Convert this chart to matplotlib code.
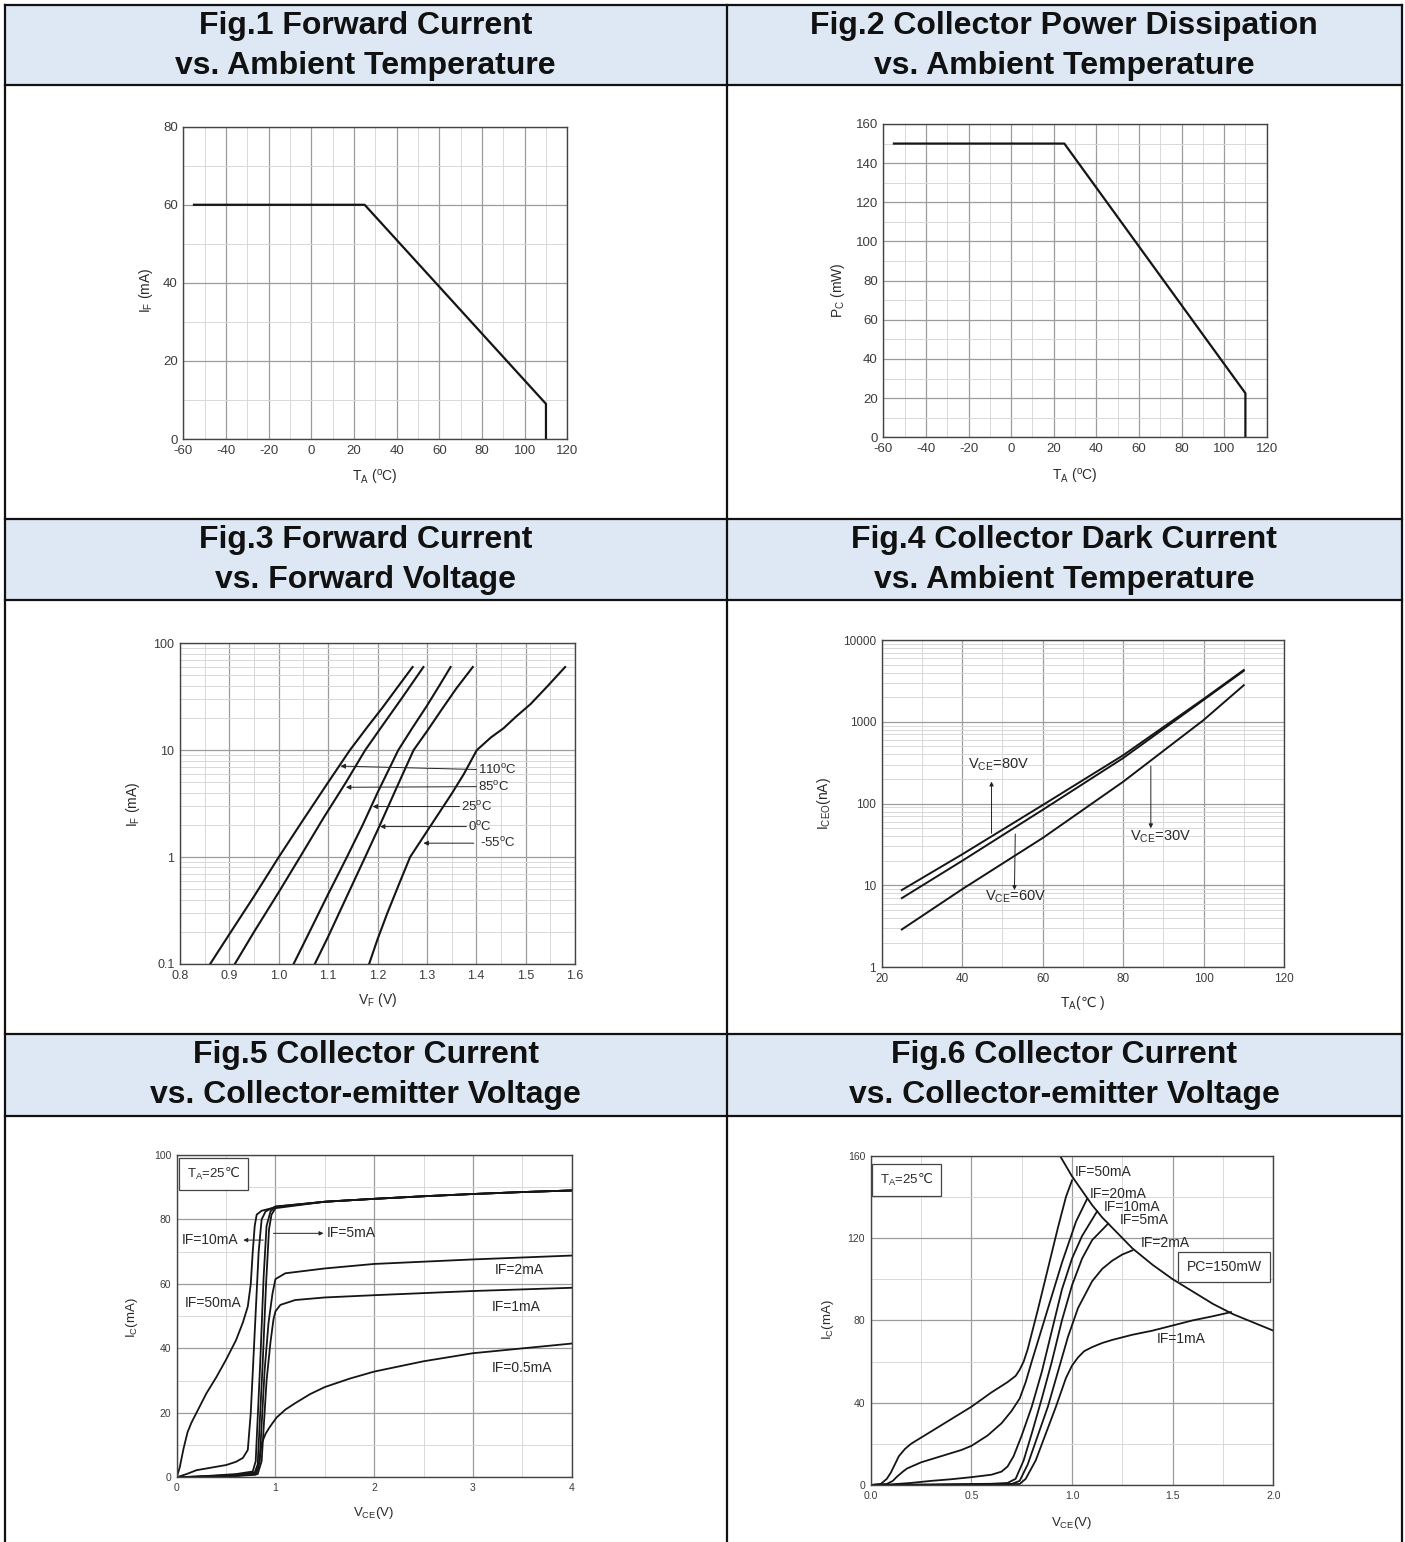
import matplotlib
matplotlib.use('Agg')
import matplotlib.pyplot as plt
from matplotlib.lines import Line2D
from matplotlib.patches import Rectangle
from matplotlib.ticker import NullFormatter

plt.rcParams['font.family'] = ['Liberation Sans', 'DejaVu Sans']
plt.rcParams['mathtext.fontset'] = 'custom'
plt.rcParams['mathtext.rm'] = 'Liberation Sans'
plt.rcParams['mathtext.it'] = 'Liberation Sans:italic'
plt.rcParams['mathtext.bf'] = 'Liberation Sans:bold'
plt.rcParams['mathtext.sf'] = 'DejaVu Sans'   # used only for the ℃ sign
plt.rcParams['mathtext.default'] = 'regular'

# ---- header titles
titles = [
    ("Fig.1 Forward Current", "vs. Ambient Temperature"),
    ("Fig.2 Collector Power Dissipation", "vs. Ambient Temperature"),
    ("Fig.3 Forward Current", "vs. Forward Voltage"),
    ("Fig.4 Collector Dark Current", "vs. Ambient Temperature"),
    ("Fig.5 Collector Current", "vs. Collector-emitter Voltage"),
    ("Fig.6 Collector Current", "vs. Collector-emitter Voltage"),
]

# ---- Fig.1 derating of forward current
fig1_t = [-55, 25, 110, 110]
fig1_if = [60, 60, 9, 0]

# ---- Fig.2 derating of collector power
fig2_t = [-55, 25, 110, 110]
fig2_pc = [150, 150, 22.5, 0]

# ---- Fig.3 IF vs VF (V, mA)
fig3_110_v = [0.861, 0.90, 0.95, 1.00, 1.05, 1.10, 1.144, 1.18, 1.21, 1.24, 1.271]
fig3_110_i = [0.1, 0.19, 0.43, 1.0, 2.25, 5.0, 10, 16.6, 25, 38.5, 60]
fig3_85_v = [0.911, 0.95, 1.00, 1.043, 1.09, 1.136, 1.175, 1.21, 1.25, 1.293]
fig3_85_i = [0.1, 0.2, 0.47, 1.0, 2.3, 5.0, 10, 17, 31, 60]
fig3_25_v = [1.030, 1.06, 1.10, 1.138, 1.17, 1.20, 1.242, 1.27, 1.30, 1.325, 1.348]
fig3_25_i = [0.1, 0.19, 0.45, 1.0, 2.0, 4.0, 10, 16, 26, 40, 60]
fig3_0_v = [1.073, 1.10, 1.14, 1.175, 1.205, 1.24, 1.273, 1.30, 1.33, 1.36, 1.393]
fig3_0_i = [0.1, 0.18, 0.45, 1.0, 2.0, 4.6, 10, 15, 24, 38, 60]
fig3_m55_v = [1.183, 1.20, 1.22, 1.245, 1.266, 1.293, 1.32, 1.35, 1.375, 1.401, 1.43, 1.455, 1.48, 1.51, 1.545, 1.58]
fig3_m55_i = [0.1, 0.17, 0.3, 0.58, 1.0, 1.55, 2.4, 3.9, 6.0, 10, 13.2, 16, 20.5, 27, 40, 60]
fig3_labels = ["110$^{o}$C", "85$^{o}$C", "25$^{o}$C", "0$^{o}$C", "-55$^{o}$C"]
fig3_label_v = [1.404, 1.404, 1.370, 1.384, 1.408]
fig3_label_i = [6.6, 4.56, 2.97, 1.93, 1.35]
fig3_head_v = [1.125, 1.136, 1.190, 1.205, 1.293]
fig3_head_i = [7.1, 4.5, 2.97, 1.93, 1.35]
fig3_tail_v = [1.400, 1.400, 1.366, 1.380, 1.395]

# ---- Fig.4 ICEO vs TA (degC, nA)
fig4_t = [25, 40, 60, 80, 100, 110]
fig4_80v = [8.8, 24, 96, 390, 1900, 4300]
fig4_60v = [7.0, 20, 84, 360, 1850, 4200]
fig4_30v = [2.9, 9, 38, 185, 1050, 2800]

# ---- Fig.5 IC vs VCE (V, mA)
fig5_top_v = [1.5, 2.0, 2.5, 3.0, 3.5, 4.0]
fig5_top_i = [85.5, 86.4, 87.2, 87.9, 88.5, 89.0]
fig5_50_v = [0, 0.03, 0.07, 0.11, 0.15, 0.2, 0.3, 0.4, 0.5, 0.6, 0.67, 0.72, 0.75, 0.77, 0.79, 0.81, 0.86, 0.95, 1.0]
fig5_50_i = [0, 3, 9, 14, 17, 20, 26, 31, 36.5, 42.5, 48, 53, 60, 70, 78, 81.5, 82.7, 83.4, 83.8]
fig5_20_v = [0, 0.1, 0.2, 0.35, 0.5, 0.6, 0.67, 0.72, 0.75, 0.79, 0.83, 0.86, 0.9, 1.0]
fig5_20_i = [0, 1, 2.2, 3, 3.8, 4.8, 6, 8.5, 20, 45, 70, 80, 82.5, 84]
fig5_10_v = [0, 0.3, 0.6, 0.77, 0.80, 0.845, 0.88, 0.91, 0.95, 1.0]
fig5_10_i = [0, 0.4, 1.0, 1.8, 5, 35, 62, 78, 82.5, 84]
fig5_5_v = [0, 0.3, 0.6, 0.79, 0.82, 0.87, 0.905, 0.935, 0.96, 1.0]
fig5_5_i = [0, 0.3, 0.8, 1.5, 4, 35, 60, 77, 81.5, 83.5]
fig5_2_v = [0, 0.3, 0.6, 0.80, 0.84, 0.89, 0.93, 0.97, 1.0, 1.1, 1.5, 2.0, 3.0, 4.0]
fig5_2_i = [0, 0.2, 0.5, 1.2, 5, 33, 48, 57, 61.5, 63.3, 64.8, 66.2, 67.6, 68.8]
fig5_1_v = [0, 0.3, 0.6, 0.82, 0.86, 0.91, 0.95, 0.98, 1.0, 1.05, 1.2, 1.5, 2.0, 3.0, 4.0]
fig5_1_i = [0, 0.2, 0.5, 1.0, 5, 30, 42, 49, 51.5, 53.5, 55, 55.8, 56.5, 57.8, 58.8]
fig5_05_v = [0, 0.3, 0.6, 0.8, 0.83, 0.86, 0.9, 0.94, 1.01, 1.1, 1.2, 1.35, 1.5, 1.75, 2.0, 2.5, 3.0, 3.5, 4.0]
fig5_05_i = [0, 0.2, 0.4, 0.8, 3.3, 10.5, 13.5, 15.5, 18.5, 21, 23, 25.8, 28, 30.6, 32.8, 36, 38.5, 40, 41.5]

# ---- Fig.6 IC vs VCE (V, mA)
fig6_pc_v = [0.94, 0.97, 1.0, 1.05, 1.1, 1.15, 1.2, 1.25, 1.3, 1.35, 1.4, 1.45, 1.5, 1.6, 1.7, 1.8, 1.9, 2.0]
fig6_pc_i = [160, 155, 150, 143, 136, 130, 125, 120, 115, 111, 107, 103.5, 100, 94, 88, 83, 79, 75]
fig6_50_v = [0, 0.05, 0.08, 0.10, 0.12, 0.14, 0.17, 0.2, 0.3, 0.4, 0.5, 0.6, 0.68, 0.72, 0.74, 0.76, 0.78, 0.83, 0.88, 0.93, 0.97, 1.0]
fig6_50_i = [0, 0.5, 3, 6, 10, 14, 17.5, 20, 26, 32, 38, 45, 50, 53, 56, 60, 66, 85, 105, 125, 140, 148]
fig6_20_v = [0, 0.08, 0.11, 0.13, 0.16, 0.18, 0.25, 0.35, 0.45, 0.5, 0.58, 0.65, 0.7, 0.74, 0.77, 0.80, 0.85, 0.90, 0.95, 1.02, 1.075]
fig6_20_i = [0, 0.5, 2, 4, 6.5, 8, 11, 14, 17, 19, 24, 30, 36, 42, 50, 60, 76, 92, 108, 128, 139]
fig6_10_v = [0, 0.1, 0.2, 0.3, 0.4, 0.5, 0.6, 0.65, 0.68, 0.71, 0.75, 0.8, 0.85, 0.9, 0.95, 1.0, 1.05, 1.125]
fig6_10_i = [0, 0.3, 1, 2, 2.8, 3.8, 5, 6.5, 9, 14, 24, 38, 55, 75, 95, 110, 121, 133]
fig6_5_v = [0, 0.3, 0.6, 0.68, 0.72, 0.76, 0.8, 0.85, 0.9, 0.95, 1.0, 1.05, 1.1, 1.18]
fig6_5_i = [0, 0.2, 0.6, 1, 3, 12, 25, 42, 60, 80, 97, 110, 119, 127]
fig6_2_v = [0, 0.4, 0.7, 0.74, 0.78, 0.83, 0.88, 0.93, 0.98, 1.03, 1.1, 1.15, 1.2, 1.25, 1.3]
fig6_2_i = [0, 0.2, 0.5, 2, 10, 24, 38, 55, 72, 86, 99, 105, 109, 112, 114]
fig6_1_v = [0, 0.5, 0.74, 0.77, 0.82, 0.87, 0.92, 0.97, 1.0, 1.03, 1.06, 1.1, 1.15, 1.2, 1.3, 1.4, 1.5, 1.6, 1.7, 1.79]
fig6_1_i = [0, 0.2, 0.5, 3, 12, 25, 38, 52, 58, 62, 65, 67, 69, 70.5, 73, 75, 77.5, 80, 82, 84]
fig6_labels = ["IF=50mA", "IF=20mA", "IF=10mA", "IF=5mA", "IF=2mA", "IF=1mA"]
fig6_label_v = [1.015, 1.089, 1.156, 1.235, 1.341, 1.42]
fig6_label_i = [151.9, 141.4, 135.2, 128.7, 117.7, 70.8]

W, H = 1405, 1542
fig = plt.figure(figsize=(W / 100, H / 100), dpi=100)
fig.patch.set_facecolor('white')

LINE = '#151515'
TXT = '#2a2a2a'
DEGC = r'$\mathsf{℃}$'


def fx(px):
    return px / W


def fy(py):
    return 1 - py / H


def hline(x0, x1, y, lw=1.6):
    fig.add_artist(Line2D([fx(x0), fx(x1)], [fy(y), fy(y)], color='#111', lw=lw))


def vline(x, y0, y1, lw=1.6):
    fig.add_artist(Line2D([fx(x), fx(x)], [fy(y0), fy(y1)], color='#111', lw=lw))


# table: header bands, borders, titles
L, M, R = 5, 726.5, 1402
bands = [(5, 85), (519, 600), (1034, 1116)]
for k, (t, b) in enumerate(bands):
    fig.add_artist(Rectangle((fx(L), fy(b)), fx(R) - fx(L), fy(t) - fy(b),
                             transform=fig.transFigure, facecolor='#dde8f4', edgecolor='none'))
    hline(L, R, t)
    hline(L, R, b)
    for j, cx in enumerate([(L + M) / 2, (M + R) / 2]):
        l1, l2 = titles[2 * k + j]
        fig.text(fx(cx), fy(t + 21), l1, ha='center', va='center', fontsize=23, fontweight='bold', color='#111')
        fig.text(fx(cx), fy(t + 61), l2, ha='center', va='center', fontsize=23, fontweight='bold', color='#111')
vline(L, 5, 1542)
vline(M, 5, 1542)
vline(R, 5, 1542)


def make_ax(l, t, r, b):
    return fig.add_axes([fx(l), fy(b), fx(r) - fx(l), fy(t) - fy(b)])


def setup(ax, xlim, ylim, xt, xtl, xm, yt, ytl, ym, fs, logy=False):
    if logy:
        ax.set_yscale('log')
    ax.set_xlim(xlim)
    ax.set_ylim(ylim)
    ax.set_xticks(xt, xtl)
    ax.set_xticks(xm, minor=True)
    ax.set_yticks(yt, ytl)
    ax.set_yticks(ym, minor=True)
    ax.xaxis.set_minor_formatter(NullFormatter())
    ax.yaxis.set_minor_formatter(NullFormatter())
    ax.grid(which='major', color='#9c9c9c', lw=0.9)
    ax.grid(which='minor', color='#d8d8d8', lw=0.7)
    ax.set_axisbelow(True)
    ax.tick_params(which='both', length=0, labelsize=fs, labelcolor='#3c3c3c', pad=4)
    for s in ax.spines.values():
        s.set_color('#444')
        s.set_linewidth(1.0)


def label(px, py, s, fs, rot=0):
    fig.text(fx(px), fy(py), s, ha='center', va='center', fontsize=fs, rotation=rot, color=TXT)


box = dict(boxstyle='square,pad=0.6', fc='white', ec='#444', lw=0.9)

# Fig.1
ax1 = make_ax(183.3, 126.7, 567.3, 439)
setup(ax1, (-60, 120), (0, 80), list(range(-60, 121, 20)), [str(v) for v in range(-60, 121, 20)],
      list(range(-50, 120, 20)), [0, 20, 40, 60, 80], ['0', '20', '40', '60', '80'], [10, 30, 50, 70], 9.5)
ax1.plot(fig1_t, fig1_if, color=LINE, lw=1.6)
label(375, 478, r'T$_{A}$ ($^{o}$C)', 10)
label(146, 290, r'I$_{F}$ (mA)', 10, 90)

# Fig.2
ax2 = make_ax(883.3, 124, 1266.7, 437.3)
setup(ax2, (-60, 120), (0, 160), list(range(-60, 121, 20)), [str(v) for v in range(-60, 121, 20)],
      list(range(-50, 120, 20)), list(range(0, 161, 20)), [str(v) for v in range(0, 161, 20)],
      list(range(10, 160, 20)), 9.5)
ax2.plot(fig2_t, fig2_pc, color=LINE, lw=1.6)
label(1075, 477, r'T$_{A}$ ($^{o}$C)', 10)
label(838, 290, r'P$_{C}$ (mW)', 10, 90)

# Fig.3
log_minor3 = [m * 10.0 ** e for e in (-1, 0, 1) for m in range(2, 10)]
ax3 = make_ax(180, 643.3, 575, 964)
setup(ax3, (0.8, 1.6), (0.1, 100), [0.8, 0.9, 1.0, 1.1, 1.2, 1.3, 1.4, 1.5, 1.6],
      ['0.8', '0.9', '1.0', '1.1', '1.2', '1.3', '1.4', '1.5', '1.6'],
      [0.85, 0.95, 1.05, 1.15, 1.25, 1.35, 1.45, 1.55], [0.1, 1, 10, 100], ['0.1', '1', '10', '100'],
      log_minor3, 9, logy=True)
for v, i in [(fig3_110_v, fig3_110_i), (fig3_85_v, fig3_85_i), (fig3_25_v, fig3_25_i),
             (fig3_0_v, fig3_0_i), (fig3_m55_v, fig3_m55_i)]:
    ax3.plot(v, i, color=LINE, lw=1.5, solid_joinstyle='round')
for s, lv, li, hv, hi, tv in zip(fig3_labels, fig3_label_v, fig3_label_i, fig3_head_v, fig3_head_i, fig3_tail_v):
    ax3.annotate('', xy=(hv, hi), xytext=(tv, li),
                 arrowprops=dict(arrowstyle='-|>', color='#222', lw=0.7, mutation_scale=7, shrinkA=0, shrinkB=0))
    ax3.text(lv, li, s, ha='left', va='center', fontsize=9.5, color=TXT)
label(378, 1000, r'V$_{F}$ (V)', 10)
label(133, 804, r'I$_{F}$ (mA)', 10, 90)

# Fig.4
log_minor4 = [m * 10.0 ** e for e in (0, 1, 2, 3) for m in range(2, 10)]
ax4 = make_ax(881.7, 640, 1284, 967.3)
setup(ax4, (20, 120), (1, 10000), [20, 40, 60, 80, 100, 120], ['20', '40', '60', '80', '100', '120'],
      [30, 50, 70, 90, 110], [1, 10, 100, 1000, 10000], ['1', '10', '100', '1000', '10000'],
      log_minor4, 8.5, logy=True)
for series in (fig4_80v, fig4_60v, fig4_30v):
    ax4.plot(fig4_t, series, color=LINE, lw=1.4, solid_joinstyle='round')
arrow = dict(arrowstyle='-|>', color='#222', lw=0.7, mutation_scale=6, shrinkA=0, shrinkB=0)
ax4.annotate('', xy=(47.3, 186), xytext=(47.3, 43.4), arrowprops=arrow)
ax4.annotate('', xy=(53.0, 8.8), xytext=(53.2, 42.6), arrowprops=arrow)
ax4.annotate('', xy=(86.9, 50), xytext=(86.9, 288), arrowprops=arrow)
ax4.text(41.5, 297, r'V$_{CE}$=80V', ha='left', va='center', fontsize=10.5, color=TXT)
ax4.text(45.7, 7.3, r'V$_{CE}$=60V', ha='left', va='center', fontsize=10.5, color=TXT)
ax4.text(81.7, 39.5, r'V$_{CE}$=30V', ha='left', va='center', fontsize=10.5, color=TXT)
label(1083, 1003, r'T$_{A}$(' + DEGC + ' )', 10)
label(824, 804, r'I$_{CEO}$(nA)', 10, 90)

# Fig.5
ax5 = make_ax(176.7, 1155, 571.7, 1477.3)
setup(ax5, (0, 4), (0, 100), [0, 1, 2, 3, 4], ['0', '1', '2', '3', '4'], [0.5, 1.5, 2.5, 3.5],
      [0, 20, 40, 60, 80, 100], ['0', '20', '40', '60', '80', '100'], [10, 30, 50, 70, 90], 7.5)
for v, i in [(fig5_50_v, fig5_50_i), (fig5_20_v, fig5_20_i), (fig5_10_v, fig5_10_i), (fig5_5_v, fig5_5_i)]:
    ax5.plot(v + fig5_top_v, i + fig5_top_i, color=LINE, lw=1.3, solid_joinstyle='round')
for v, i in [(fig5_2_v, fig5_2_i), (fig5_1_v, fig5_1_i), (fig5_05_v, fig5_05_i)]:
    ax5.plot(v, i, color=LINE, lw=1.3, solid_joinstyle='round')
ax5.text(0.10, 94, r'T$_{A}$=25' + DEGC, ha='left', va='center', fontsize=9.5, color=TXT, bbox=box)
ax5.annotate('', xy=(0.675, 73.6), xytext=(0.877, 73.6), arrowprops=arrow)
ax5.annotate('', xy=(1.486, 75.7), xytext=(0.979, 75.7), arrowprops=arrow)
ax5.text(0.05, 73.6, 'IF=10mA', ha='left', va='center', fontsize=10, color=TXT)
ax5.text(1.519, 75.7, 'IF=5mA', ha='left', va='center', fontsize=10, color=TXT)
ax5.text(3.223, 64.3, 'IF=2mA', ha='left', va='center', fontsize=10, color=TXT)
ax5.text(3.19, 52.9, 'IF=1mA', ha='left', va='center', fontsize=10, color=TXT)
ax5.text(3.19, 33.8, 'IF=0.5mA', ha='left', va='center', fontsize=10, color=TXT)
ax5.text(0.084, 54, 'IF=50mA', ha='left', va='center', fontsize=10, color=TXT)
label(374, 1513, r'V$_{CE}$(V)', 9.5)
label(132, 1318, r'I$_{C}$(mA)', 9.5, 90)

# Fig.6
ax6 = make_ax(870.7, 1155.7, 1273.3, 1485)
setup(ax6, (0, 2), (0, 160), [0, 0.5, 1.0, 1.5, 2.0], ['0.0', '0.5', '1.0', '1.5', '2.0'],
      [0.25, 0.75, 1.25, 1.75], [0, 40, 80, 120, 160], ['0', '40', '80', '120', '160'],
      [20, 60, 100, 140], 7.5)
ax6.plot(fig6_pc_v, fig6_pc_i, color=LINE, lw=1.3, solid_joinstyle='round')
for v, i in [(fig6_50_v, fig6_50_i), (fig6_20_v, fig6_20_i), (fig6_10_v, fig6_10_i),
             (fig6_5_v, fig6_5_i), (fig6_2_v, fig6_2_i), (fig6_1_v, fig6_1_i)]:
    ax6.plot(v, i, color=LINE, lw=1.3, solid_joinstyle='round')
for s, lv, li in zip(fig6_labels, fig6_label_v, fig6_label_i):
    ax6.text(lv, li, s, ha='left', va='center', fontsize=10, color=TXT)
ax6.text(0.046, 148, r'T$_{A}$=25' + DEGC, ha='left', va='center', fontsize=9.5, color=TXT, bbox=box)
ax6.text(1.57, 106, 'PC=150mW', ha='left', va='center', fontsize=10, color=TXT, bbox=box)
label(1072, 1523, r'V$_{CE}$(V)', 9.5)
label(828, 1320, r'I$_{C}$(mA)', 9.5, 90)

fig.savefig('out.png', dpi=100)
